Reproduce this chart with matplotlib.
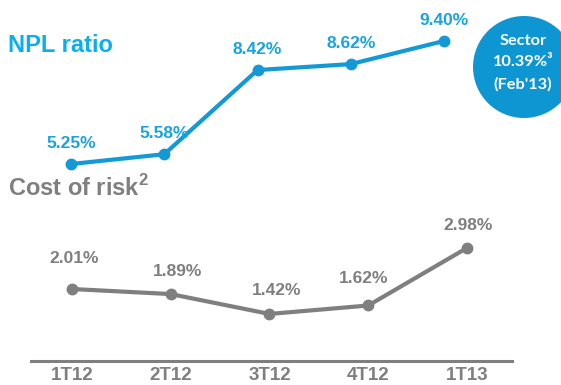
import matplotlib.pyplot as plt
from matplotlib.patches import Circle

## --- Data ---
quarters = ["1T12", "2T12", "3T12", "4T12", "1T13"]
npl_ratio = [5.25, 5.58, 8.42, 8.62, 9.40]
cost_of_risk = [2.01, 1.89, 1.42, 1.62, 2.98]
sector_npl = 10.39

## --- Style ---
plt.rcParams['font.family'] = ['Liberation Sans', 'DejaVu Sans']
plt.rcParams['font.weight'] = 'bold'
plt.rcParams['mathtext.fontset'] = 'custom'
plt.rcParams['mathtext.rm'] = 'Liberation Sans:bold'
plt.rcParams['mathtext.bf'] = 'Liberation Sans:bold'
blue = "#1399d6"
blue_txt = "#1aa3df"
blue_title = "#0ab0ee"
grey = "#7f7f7f"

W, H = 561, 385
fig = plt.figure(figsize=(W / 100, H / 100), dpi=100)

def px_axes(left, top, right, bottom):
    return fig.add_axes([left / W, 1 - bottom / H, (right - left) / W, (bottom - top) / H])

# NPL ratio (top)
ax1 = px_axes(24.4, 20, 490.6, 185)
x = range(len(quarters))
ax1.plot(x, npl_ratio, color=blue, lw=3, marker="o", ms=7.5, solid_capstyle="round")
ax1.set_xlim(-0.5, 4.5)
ax1.set_ylim(4.542, 10.108)
ax1.axis("off")
for i, v in enumerate(npl_ratio):
    ax1.annotate(f"{v:.2f}%", (i, v), xytext=(0, 15), textcoords="offset points",
                 ha="center", va="center", color=blue_txt, fontsize=12.5, fontweight="bold")

# Cost of risk (bottom)
ax2 = px_axes(31, 220, 512, 361)
ax2.plot(x, cost_of_risk, color=grey, lw=3, marker="o", ms=7.5)
ax2.set_xlim(-0.415, 4.456)
ax2.set_ylim(0.308, 3.641)
for s in ["top", "left", "right"]:
    ax2.spines[s].set_visible(False)
ax2.spines["bottom"].set_color(grey)
ax2.spines["bottom"].set_linewidth(2.2)
ax2.set_yticks([])
ax2.set_xticks(list(x))
ax2.set_xticklabels(quarters, color=grey, fontsize=13.5, fontweight="bold")
ax2.tick_params(axis="x", length=0, pad=4)
offsets = [(1.5, 22), (5, 16), (5, 17), (-3.5, 19.5), (0.5, 16)]
for i, v in enumerate(cost_of_risk):
    ax2.annotate(f"{v:.2f}%", (i, v), xytext=offsets[i], textcoords="offset points",
                 ha="center", va="center", color=grey, fontsize=12.5, fontweight="bold")

# overlay in pixel coords for titles and sector bubble
ov = fig.add_axes([0, 0, 1, 1], zorder=-1)
ov.set_xlim(0, W)
ov.set_ylim(H, 0)
ov.axis("off")
ov.text(8, 45, "NPL ratio", color=blue_title, fontsize=17, fontweight="bold", va="center")
ov.text(8, 188, r"Cost of risk$^{\mathbf{2}}$", color=grey, fontsize=17, fontweight="bold",
        va="center")
ov.add_patch(Circle((524, 67), 51, color="#0e96d2", lw=0))
for txt, yy in [("Sector", 41), (f"{sector_npl:.2f}%³", 62), ("(Feb'13)", 84)]:
    ov.text(523, yy, txt, color="white", fontsize=11.8, fontweight="bold",
            family=["Lato", "DejaVu Sans"], ha="center", va="center")

fig.savefig("out.png", dpi=100)
